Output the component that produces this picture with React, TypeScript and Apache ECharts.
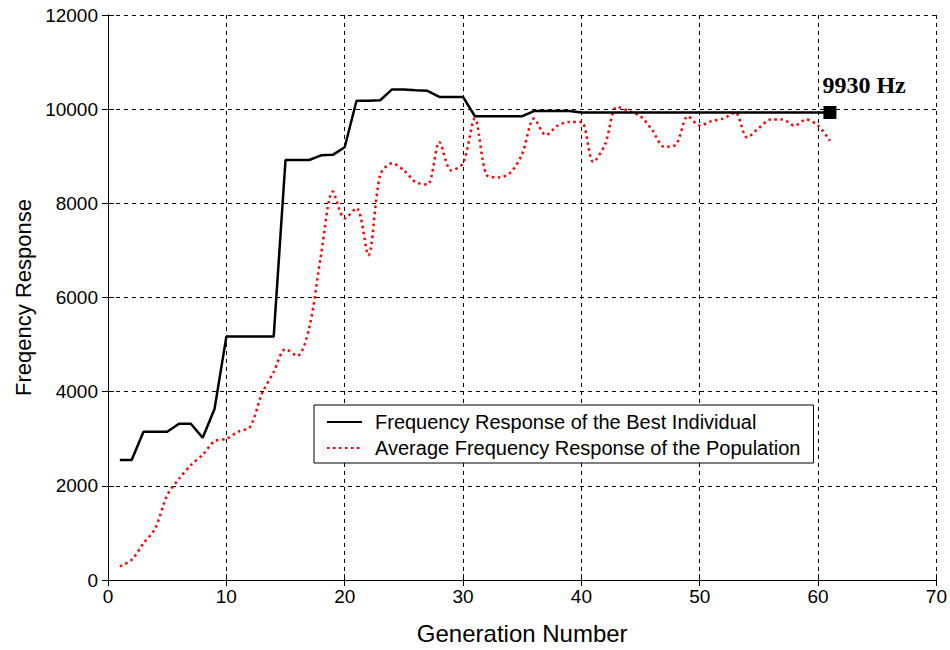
import React, { useEffect, useRef } from "react";
import * as echarts from "echarts";

const generations: number[] = Array.from({ length: 61 }, (_, i) => i + 1);

const bestResponse: number[] = [
  2550, 2550, 3150, 3150, 3150, 3320, 3320, 3020, 3630, 5170,
  5170, 5170, 5170, 5170, 8920, 8920, 8920, 9020, 9030, 9190,
  10180, 10180, 10190, 10420, 10420, 10400, 10390, 10260, 10260, 10260,
  9850, 9850, 9850, 9850, 9850, 9960, 9960, 9960, 9960, 9930,
  9930, 9930, 9930, 9930, 9930, 9930, 9930, 9930, 9930, 9930,
  9930, 9930, 9930, 9930, 9930, 9930, 9930, 9930, 9930, 9930,
  9930,
];

const avgResponse: number[] = [
  290, 430, 780, 1100, 1800, 2150, 2440, 2660, 2950, 3000,
  3150, 3250, 3950, 4420, 4900, 4760, 5350, 6900, 8250, 7680,
  7900, 6900, 8600, 8850, 8700, 8450, 8400, 9300, 8700, 8850,
  9800, 8600, 8550, 8650, 9050, 9800, 9450, 9650, 9730, 9730,
  8880, 9250, 10050, 9960, 9850, 9550, 9200, 9250, 9850, 9650,
  9750, 9800, 9930, 9400, 9600, 9780, 9780, 9650, 9780, 9650,
  9330,
];

const seriesNames: string[] = [
  "Frequency Response of the Best Individual",
  "Average Frequency Response of the Population",
];

const xTitle = "Generation Number";
const yTitle = "Freqency Response";
const finalLabel = "9930 Hz";

const FONT = "'Liberation Sans', Arial, sans-serif";

export default function App() {
  const ref = useRef<HTMLDivElement>(null);

  useEffect(() => {
    if (!ref.current) return;
    const chart = echarts.init(ref.current, undefined, { renderer: "svg" });
    const lastIdx = generations.length - 1;

    const axisLine = { show: true, lineStyle: { color: "#000", width: 1 } };
    const splitLine = {
      show: true,
      lineStyle: { color: "#000", width: 1, type: [4, 4] as any },
    };
    const tick = { show: true, inside: true, length: 6, lineStyle: { color: "#000" } };

    chart.setOption({
      animation: false,
      backgroundColor: "#fff",
      grid: { left: 108, right: 13, top: 15, bottom: 66, containLabel: false },
      legend: {
        left: 314,
        top: 405,
        orient: "vertical",
        backgroundColor: "#fff",
        borderColor: "#000",
        borderWidth: 1,
        borderRadius: 0,
        padding: [7, 13, 5, 12],
        itemWidth: 35,
        itemHeight: 14,
        itemGap: 6,
        itemStyle: { opacity: 0 },
        textStyle: {
          fontFamily: FONT,
          fontSize: 20,
          color: "#000",
          lineHeight: 20,
          padding: [0, 0, 0, 8],
        },
        data: seriesNames,
      },
      xAxis: [
        {
          type: "value",
          min: 0,
          max: 70,
          interval: 10,
          position: "bottom",
          name: xTitle,
          nameLocation: "middle",
          nameGap: 41,
          nameTextStyle: { fontFamily: FONT, fontSize: 24, color: "#000" },
          axisLine,
          axisTick: tick,
          axisLabel: { fontFamily: FONT, fontSize: 19, color: "#000", margin: 7 },
          splitLine,
        },
        {
          type: "value",
          min: 0,
          max: 70,
          interval: 10,
          position: "top",
          axisLine,
          axisTick: tick,
          axisLabel: { show: false },
          splitLine: { show: false },
        },
      ],
      yAxis: [
        {
          type: "value",
          min: 0,
          max: 12000,
          interval: 2000,
          position: "left",
          name: yTitle,
          nameLocation: "middle",
          nameGap: 74,
          nameRotate: 90,
          nameTextStyle: { fontFamily: FONT, fontSize: 22, color: "#000" },
          axisLine,
          axisTick: tick,
          axisLabel: {
            fontFamily: FONT,
            fontSize: 19,
            color: "#000",
            margin: 10,
            formatter: (v: number) => String(v),
          },
          splitLine,
        },
        {
          type: "value",
          min: 0,
          max: 12000,
          interval: 2000,
          position: "right",
          axisLine,
          axisTick: tick,
          axisLabel: { show: false },
          splitLine: { show: false },
        },
      ],
      series: [
        {
          name: seriesNames[0],
          type: "line",
          xAxisIndex: 0,
          yAxisIndex: 0,
          data: generations.map((g, i) => [g, bestResponse[i]]),
          symbol: "none",
          lineStyle: { color: "#000", width: 2.5 },
          itemStyle: { color: "#000" },
          z: 3,
          markPoint: {
            symbol: "rect",
            symbolSize: 13,
            itemStyle: { color: "#000" },
            label: {
              show: true,
              formatter: finalLabel,
              position: [-1, -33],
              fontFamily: "'Liberation Serif', 'Times New Roman', serif",
              fontWeight: "bold",
              fontSize: 24,
              color: "#000",
            },
            data: [{ coord: [generations[lastIdx], bestResponse[lastIdx]] }],
          },
        },
        {
          name: seriesNames[1],
          type: "line",
          xAxisIndex: 0,
          yAxisIndex: 0,
          data: generations.map((g, i) => [g, avgResponse[i]]),
          symbol: "none",
          smooth: 0.3,
          lineStyle: { color: "#ff0000", width: 2.5, type: [2.5, 3.5] as any },
          itemStyle: { color: "#ff0000" },
          z: 2,
        },
      ],
    });

    return () => chart.dispose();
  }, []);

  return (
    <div
      ref={ref}
      style={{ position: "fixed", left: 0, top: 0, width: 950, height: 650, background: "#fff" }}
    />
  );
}
